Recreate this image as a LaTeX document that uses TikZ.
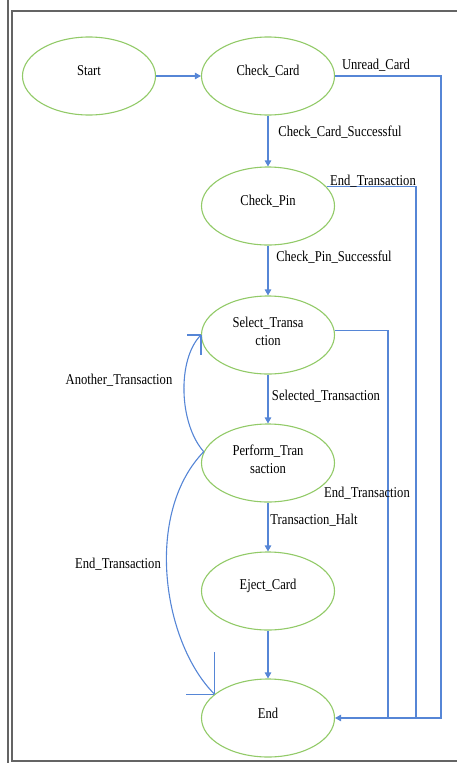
\documentclass[tikz,border=0pt]{standalone}
\usepackage{fontspec}
\setmainfont{Liberation Serif}[FakeStretch=0.84]
\usetikzlibrary{shapes.geometric,arrows.meta}
\definecolor{stateline}{RGB}{146,202,104}
\definecolor{flow}{RGB}{86,134,214}
\definecolor{frameline}{RGB}{100,100,100}
% lift the state name a little above the centre of its ellipse
\newcommand\liftname[2][5pt]{\raisebox{#1}[\height][\depth]{#2}}
\newcommand\twolines[2]{\liftname[2pt]{\begin{tabular}{@{}c@{}}#1\\#2\end{tabular}}}
\begin{document}
\begin{tikzpicture}[x=1pt,y=-1pt,
  state/.style={ellipse, draw=stateline, line width=1.1pt,
    minimum width=133pt, minimum height=78pt, inner sep=0pt,
    font=\fontsize{15}{18}\selectfont},
  flowline/.style={draw=flow, line width=1.1pt},
  go/.style={flowline, -{Triangle[length=6pt,width=6.5pt]}},
  tag/.style={font=\fontsize{15}{18}\selectfont, inner sep=0pt},
  framestroke/.style={draw=frameline, line width=1.4pt}
]
\useasboundingbox (0,0) rectangle (457,763);

% page frame
\draw[framestroke] (8,0) -- (8,763);
\draw[framestroke] (457,11) -- (12,11) -- (12,761) -- (457,761);

% states
\node[state] (start)     at (89,76)   {\liftname{Start}};
\node[state] (checkcard) at (268,76)  {\liftname{Check\_Card}};
\node[state] (checkpin)  at (268,206) {\liftname{Check\_Pin}};
\node[state] (select)    at (268,335) {\twolines{Select\_Transa}{ction}};
\node[state] (perform)   at (268,463) {\twolines{Perform\_Tran}{saction}};
\node[state] (eject)     at (268,591) {\liftname{Eject\_Card}};
\node[state] (end)       at (268,718) {\liftname{End}};

% main flow
\draw[go] (start) -- (checkcard);
\draw[go] (checkcard) -- (checkpin);
\draw[go] (checkpin) -- (select);
\draw[go] (select) -- (perform);
\draw[go] (perform) -- (eject);
\draw[go] (eject) -- (end);

% exits on the right, merging into End
\coordinate (jA) at (441,718);
\coordinate (jB) at (416,718);
\coordinate (jC) at (388,718);
\draw[go] (checkcard.east) -| (jA) -- (end.east);
\draw[flowline] (checkpin.18) -| (jB);
\draw[flowline] (select.4) -| (jC);

% loops on the left with open barbs
\coordinate (tipA) at (select.west);
\coordinate (tipB) at (end.156);
\draw[flowline] (perform.170) .. controls +(-25,-28) and +(-24,24) .. (tipA);
\draw[flowline] (tipA) -- ++(-14,0);
\draw[flowline] (tipA) -- ++(0,20);
\draw[flowline] (perform.170) .. controls +(-60,62) and +(-52,-52) .. (tipB);
\draw[flowline] (tipB) -- ++(-28,0);
\draw[flowline] (tipB) -- ++(0,-42);

% transition labels
\node[tag] (lunread)   at (376,65)  {Unread\_Card};
\node[tag] (lccs)      at (340,132) {Check\_Card\_Successful};
\node[tag] (lendpin)   at (373,181) {End\_Transaction};
\node[tag] (lcps)      at (334,257) {Check\_Pin\_Successful};
\node[tag] (lanother)  at (119,380) {Another\_Transaction};
\node[tag] (lselected) at (326,396) {Selected\_Transaction};
\node[tag] (lendsel)   at (367,493) {End\_Transaction};
\node[tag] (lhalt)     at (314,520) {Transaction\_Halt};
\node[tag] (lendleft)  at (118,564) {End\_Transaction};
\end{tikzpicture}
\end{document}
